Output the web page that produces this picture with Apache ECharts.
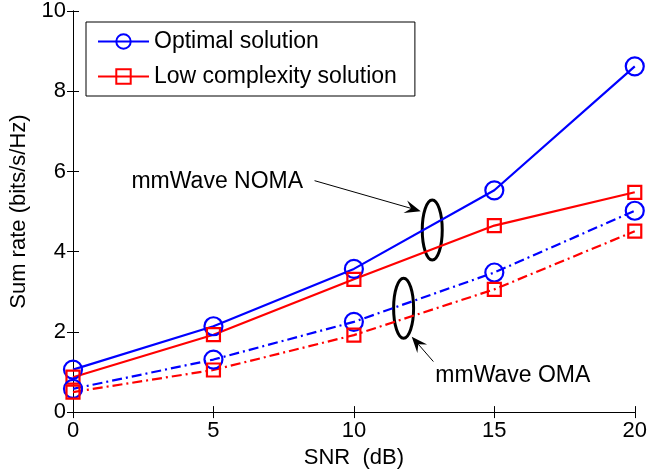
<!DOCTYPE html>
<html>
<head>
<meta charset="utf-8">
<script src="https://cdn.jsdelivr.net/npm/echarts@6/dist/echarts.min.js"></script>
<style>html,body{margin:0;padding:0;background:#fff;}#c{width:650px;height:474px;}</style>
</head>
<body>
<div id="c"></div>
<script>
const snr = [0, 5, 10, 15, 20];
const nomaOptimal = [1.06, 2.14, 3.57, 5.53, 8.62];
const nomaLowComplexity = [0.87, 1.93, 3.31, 4.65, 5.48];
const omaOptimal = [0.58, 1.31, 2.25, 3.48, 5.02];
const omaLowComplexity = [0.50, 1.05, 1.92, 3.06, 4.51];
const xTicks = [0, 5, 10, 15, 20];
const yTicks = [0, 2, 4, 6, 8, 10];

const FONT = "'Liberation Sans', Arial, Helvetica, sans-serif";
const BLUE = '#0000ff', RED = '#ff0000';
const pairs = ys => snr.map((x, i) => [x, ys[i]]);

const chart = echarts.init(document.getElementById('c'), null, {renderer: 'canvas'});

function mkSeries(name, ys, color, symbol, size, dashed) {
  return {
    name: name, type: 'line', data: pairs(ys),
    symbol: symbol, symbolSize: size, showSymbol: true,
    lineStyle: {color: color, width: 2.2, type: dashed ? [10, 4, 2, 4] : 'solid'},
    itemStyle: {color: 'rgba(0,0,0,0)', borderColor: color, borderWidth: 2.2},
    emphasis: {disabled: true}, animation: false, clip: false
  };
}

const axisCommon = {
  axisLine: {show: true, lineStyle: {color: '#000', width: 1}},
  axisTick: {show: true, inside: true, length: 6, lineStyle: {color: '#000'}},
  splitLine: {show: false}
};

chart.setOption({
  animation: false,
  backgroundColor: '#fff',
  grid: {left: 72, right: 12, top: 10, bottom: 60},
  legend: {
    left: 86, top: 22, orient: 'vertical',
    data: ['Optimal solution', 'Low complexity solution'],
    itemWidth: 51, itemHeight: 18, itemGap: 12,
    padding: [8, 18, 8, 11],
    borderColor: '#000', borderWidth: 1, backgroundColor: '#fff',
    textStyle: {fontFamily: FONT, fontSize: 23, color: '#000'},
    selectedMode: false
  },
  xAxis: [
    Object.assign({}, axisCommon, {
      type: 'value', min: 0, max: 20, interval: 5, position: 'bottom',
      name: 'SNR  (dB)', nameLocation: 'middle', nameGap: 28,
      nameTextStyle: {fontFamily: FONT, fontSize: 22, color: '#000'},
      axisLabel: {margin: 8, fontFamily: FONT, fontSize: 22, color: '#000',
        formatter: v => xTicks.includes(v) ? String(v) : ''}
    }),
    Object.assign({}, axisCommon, {
      type: 'value', min: 0, max: 20, interval: 5, position: 'top',
      axisLabel: {show: false}
    })
  ],
  yAxis: [
    Object.assign({}, axisCommon, {
      type: 'value', min: 0, max: 10, interval: 2, position: 'left',
      name: 'Sum rate (bits/s/Hz)', nameLocation: 'middle', nameGap: 43,
      nameTextStyle: {fontFamily: FONT, fontSize: 22, color: '#000'},
      axisLabel: {margin: 7, fontFamily: FONT, fontSize: 22, color: '#000',
        formatter: v => yTicks.includes(v) ? String(v) : ''}
    }),
    Object.assign({}, axisCommon, {
      type: 'value', min: 0, max: 10, interval: 2, position: 'right',
      axisLabel: {show: false}
    })
  ],
  series: [
    mkSeries('Optimal solution', nomaOptimal, BLUE, 'circle', 18, false),
    mkSeries('Low complexity solution', nomaLowComplexity, RED, 'rect', 13, false),
    mkSeries('Optimal OMA', omaOptimal, BLUE, 'circle', 18, true),
    mkSeries('Low complexity OMA', omaLowComplexity, RED, 'rect', 13, true)
  ]
});

// Annotations (positions given in data units, converted through the axes)
const annNomaEllipse = [12.79, 4.54];
const annOmaEllipse = [11.77, 2.59];
const annNomaArrow = [[8.6, 5.77], [12.38, 5.01]];
const annOmaArrow = [[12.83, 1.26], [12.06, 1.88]];
const annNomaText = [2.08, 5.75];
const annOmaText = [12.9, 0.9];

const px = p => chart.convertToPixel({gridIndex: 0}, p);

function arrow(tail, tip) {
  const a = px(tail), b = px(tip);
  const dx = b[0] - a[0], dy = b[1] - a[1];
  const L = Math.hypot(dx, dy), ux = dx / L, uy = dy / L;
  const nx = -uy, ny = ux;
  const len = 16, half = 6.5, notch = 10;
  const back = [b[0] - ux * len, b[1] - uy * len];
  const mid = [b[0] - ux * notch, b[1] - uy * notch];
  return [
    {type: 'line', shape: {x1: a[0], y1: a[1], x2: mid[0], y2: mid[1]},
      style: {stroke: '#000', lineWidth: 1}},
    {type: 'polygon', shape: {points: [b, [back[0] + nx * half, back[1] + ny * half], mid,
      [back[0] - nx * half, back[1] - ny * half]]}, style: {fill: '#000'}}
  ];
}

function ellipse(c) {
  const p = px(c);
  return {type: 'ellipse', shape: {cx: p[0], cy: p[1], rx: 10, ry: 30},
    style: {fill: 'none', stroke: '#000', lineWidth: 3}};
}

function label(pos, txt) {
  const p = px(pos);
  return {type: 'text', x: p[0], y: p[1],
    style: {text: txt, fontFamily: FONT, fontSize: 23, fill: '#000',
      align: 'left', verticalAlign: 'middle'}};
}

chart.setOption({
  graphic: [].concat(
    [ellipse(annNomaEllipse), ellipse(annOmaEllipse)],
    arrow(annNomaArrow[0], annNomaArrow[1]),
    arrow(annOmaArrow[0], annOmaArrow[1]),
    [label(annNomaText, 'mmWave NOMA'), label(annOmaText, 'mmWave OMA')]
  )
});
</script>
</body>
</html>
